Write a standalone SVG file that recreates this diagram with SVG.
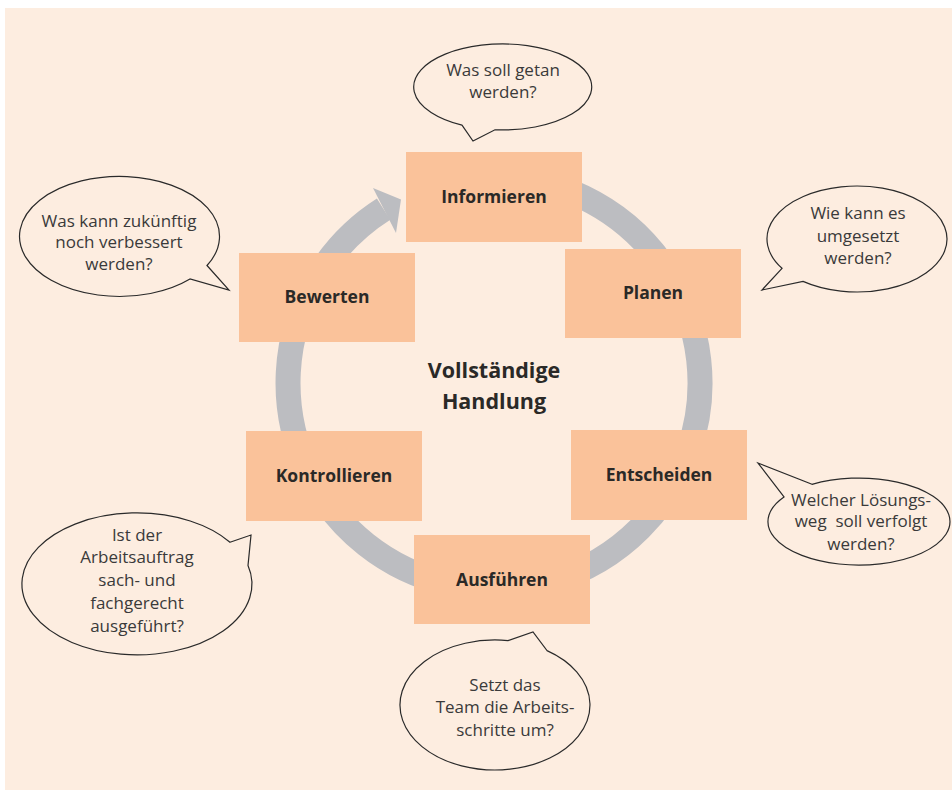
<svg xmlns="http://www.w3.org/2000/svg" width="952" height="792" viewBox="0 0 952 792">
<defs>
<style>
.bg{fill:#fdede0}
.box{fill:#fac29a}
.ring{fill:none;stroke:#bcbdc1;stroke-width:25}
.arrowhead{fill:#bcbdc1}
.bubble{fill:#fdede0;stroke:#2a2a2a;stroke-width:1.2;stroke-linejoin:miter}
.lbl{font-family:"Open Sans","Noto Sans",sans-serif;font-weight:bold;font-size:17.5px;fill:#2a2927;text-anchor:middle}
.title{font-family:"Open Sans","Noto Sans",sans-serif;font-weight:bold;font-size:21.5px;fill:#2a2927;text-anchor:middle}
.q{font-family:"Open Sans","Noto Sans",sans-serif;font-size:17px;fill:#3a3a3a;text-anchor:middle}
</style>
</defs>
<rect class="bg" x="5" y="8" width="947" height="782"/>

<g id="connectors">
<path class="ring" d="M 494 177 A 206 206 0 1 1 383.6 209.1"/>
<polygon class="arrowhead" points="373,188 401,199.5 396,233"/>
</g>

<g id="informieren"><rect class="box" x="406" y="152" width="176" height="90"/><text class="lbl" x="494" y="203">Informieren</text></g>
<g id="planen"><rect class="box" x="565" y="249" width="176" height="89"/><text class="lbl" x="653" y="299">Planen</text></g>
<g id="entscheiden"><rect class="box" x="571" y="430" width="176" height="90"/><text class="lbl" x="659" y="481">Entscheiden</text></g>
<g id="ausfuehren"><rect class="box" x="414" y="535" width="176" height="89"/><text class="lbl" x="502" y="586">Ausführen</text></g>
<g id="kontrollieren"><rect class="box" x="246" y="431" width="176" height="90"/><text class="lbl" x="334" y="482">Kontrollieren</text></g>
<g id="bewerten"><rect class="box" x="239" y="253" width="176" height="89"/><text class="lbl" x="327" y="303">Bewerten</text></g>

<g id="center-title"><text class="title" x="494" y="378">Vollständige</text><text class="title" x="494" y="409">Handlung</text></g>

<g id="bubble-informieren">
<path class="bubble" d="M 462 125.2 L 473 141 L 495 129.8 A 89 43 0 1 0 462 125.2 Z"/>
<text class="q" x="503" y="76">Was soll getan</text><text class="q" x="503" y="98">werden?</text>
</g>
<g id="bubble-planen">
<path class="bubble" d="M 782 268.3 L 762 290 L 803 281.4 A 90 53 0 1 0 782 268.3 Z"/>
<text class="q" x="858" y="219">Wie kann es</text><text class="q" x="858" y="242">umgesetzt</text><text class="q" x="858" y="264">werden?</text>
</g>
<g id="bubble-entscheiden">
<path class="bubble" d="M 812 484.3 L 758 463 L 784 496.9 A 91 43.5 0 1 0 812 484.3 Z"/>
<text class="q" x="861" y="506">Welcher Lösungs-</text><text class="q" x="861" y="527" xml:space="preserve">weg  soll verfolgt</text><text class="q" x="861" y="550">werden?</text>
</g>
<g id="bubble-ausfuehren">
<path class="bubble" d="M 508 640.6 L 533 632 L 547 650.6 A 95 65 0 1 1 508 640.6 Z"/>
<text class="q" x="505" y="691">Setzt das</text><text class="q" x="505" y="713">Team die Arbeits-</text><text class="q" x="505" y="736">schritte um?</text>
</g>
<g id="bubble-kontrollieren">
<path class="bubble" d="M 230 542.2 L 251 535 L 248 565.5 A 115 71 0 1 1 230 542.2 Z"/>
<text class="q" x="137" y="541">Ist der</text><text class="q" x="137" y="563">Arbeitsauftrag</text><text class="q" x="137" y="586">sach- und</text><text class="q" x="137" y="609">fachgerecht</text><text class="q" x="137" y="632">ausgeführt?</text>
</g>
<g id="bubble-bewerten">
<path class="bubble" d="M 207 265.5 L 229 290 L 190 279 A 100 60 0 1 1 207 265.5 Z"/>
<text class="q" x="119" y="227">Was kann zukünftig</text><text class="q" x="119" y="248">noch verbessert</text><text class="q" x="119" y="270">werden?</text>
</g>
</svg>
